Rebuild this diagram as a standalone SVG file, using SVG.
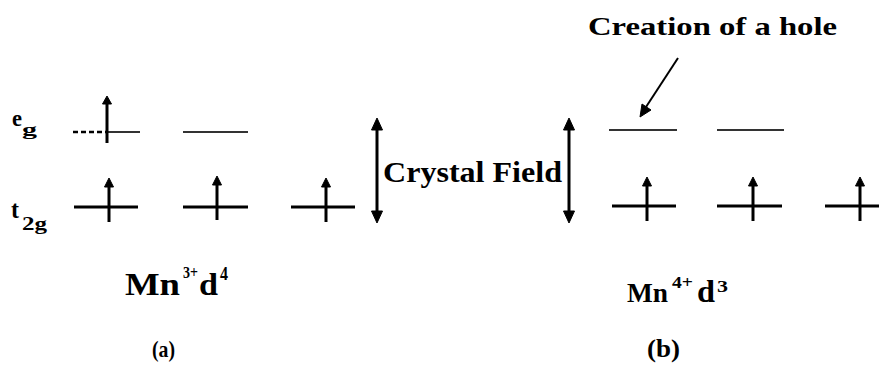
<svg xmlns="http://www.w3.org/2000/svg" width="879" height="367" viewBox="0 0 879 367">
<style>
text{font-family:"Liberation Serif","Times New Roman",serif;font-weight:bold;fill:#000}
.lvl{stroke:#000;stroke-width:3}
.eg{stroke:#333;stroke-width:2}
.shaft{stroke:#000;stroke-width:3}
.head{fill:#000;stroke:#000;stroke-width:1;stroke-linejoin:round}
</style>
<defs>
<g id="spin">
<line class="shaft" x1="0" y1="15" x2="0" y2="-21"/>
<polygon class="head" points="-4.5,-20 0,-29 4.5,-20"/>
</g>
</defs>
<rect width="879" height="367" fill="#fff"/>

<g id="labels-a">
<text x="12" y="126" font-size="24" textLength="10" lengthAdjust="spacingAndGlyphs">e</text>
<text x="22" y="135" font-size="17" textLength="15" lengthAdjust="spacingAndGlyphs">g</text>
<text x="11" y="218" font-size="26" textLength="8" lengthAdjust="spacingAndGlyphs">t</text>
<text x="22" y="230" font-size="18" textLength="25" lengthAdjust="spacingAndGlyphs">2g</text>
</g>

<g id="eg-a1">
<line x1="73" y1="132" x2="107" y2="132" stroke="#000" stroke-width="2.5" stroke-dasharray="5,3"/>
<line class="eg" x1="107" y1="132" x2="140" y2="132"/>
<line class="shaft" x1="107" y1="143" x2="107" y2="103"/>
<polygon class="head" points="102.5,104 107,96 111.5,104"/>
</g>
<g id="eg-a2"><line class="eg" x1="183" y1="132" x2="248" y2="132"/></g>

<g id="t2g-a1"><line class="lvl" x1="74" y1="207" x2="138" y2="207"/><use href="#spin" x="109" y="207"/></g>
<g id="t2g-a2"><line class="lvl" x1="183" y1="207" x2="248" y2="207"/><use href="#spin" x="217" y="205"/></g>
<g id="t2g-a3"><line class="lvl" x1="291" y1="207" x2="355" y2="207"/><use href="#spin" x="326" y="207"/></g>

<g id="crystal-field">
<text x="383" y="182" font-size="30" textLength="179" lengthAdjust="spacingAndGlyphs">Crystal Field</text>
</g>

<g id="eg-b1"><line class="eg" x1="609" y1="130" x2="677" y2="130"/></g>
<g id="eg-b2"><line class="eg" x1="717" y1="130" x2="784" y2="130"/></g>

<g id="t2g-b1"><line class="lvl" x1="612" y1="206" x2="676" y2="206"/><use href="#spin" x="647" y="206"/></g>
<g id="t2g-b2"><line class="lvl" x1="717" y1="206" x2="782" y2="206"/><use href="#spin" x="753" y="206"/></g>
<g id="t2g-b3"><line class="lvl" x1="825" y1="206" x2="879" y2="206"/><use href="#spin" x="860" y="206"/></g>

<g id="hole-label">
<text x="588" y="35" font-size="26" textLength="249" lengthAdjust="spacingAndGlyphs">Creation of a hole</text>
</g>

<g id="title-a">
<text x="125" y="295" font-size="31" textLength="55" lengthAdjust="spacingAndGlyphs">Mn</text>
<text x="183" y="278" font-size="17" textLength="15" lengthAdjust="spacingAndGlyphs">3+</text>
<text x="199" y="295" font-size="31" textLength="19" lengthAdjust="spacingAndGlyphs">d</text>
<text x="220" y="280" font-size="18" textLength="8" lengthAdjust="spacingAndGlyphs">4</text>
<text x="152" y="357" font-size="24" textLength="23" lengthAdjust="spacingAndGlyphs">(a)</text>
</g>

<g id="title-b">
<text x="627" y="302" font-size="28" textLength="41" lengthAdjust="spacingAndGlyphs">Mn</text>
<text x="672" y="288" font-size="16" textLength="21" lengthAdjust="spacingAndGlyphs">4+</text>
<text x="697" y="302" font-size="31" textLength="18" lengthAdjust="spacingAndGlyphs">d</text>
<text x="717" y="292" font-size="16" textLength="11" lengthAdjust="spacingAndGlyphs">3</text>
<text x="647" y="357" font-size="26" textLength="33" lengthAdjust="spacingAndGlyphs">(b)</text>
</g>

<g id="connectors">
<line class="shaft" x1="377" y1="126" x2="377" y2="215"/>
<polygon class="head" points="371.5,130 377,118 382.5,130"/>
<polygon class="head" points="371.5,211 377,223 382.5,211"/>
<line class="shaft" x1="569" y1="126" x2="569" y2="215"/>
<polygon class="head" points="563.5,130 569,118 574.5,130"/>
<polygon class="head" points="563.5,211 569,223 574.5,211"/>
<line x1="678" y1="58" x2="646" y2="107" stroke="#000" stroke-width="2"/>
<polygon class="head" points="651,110 642,104 640,117"/>
</g>
</svg>
